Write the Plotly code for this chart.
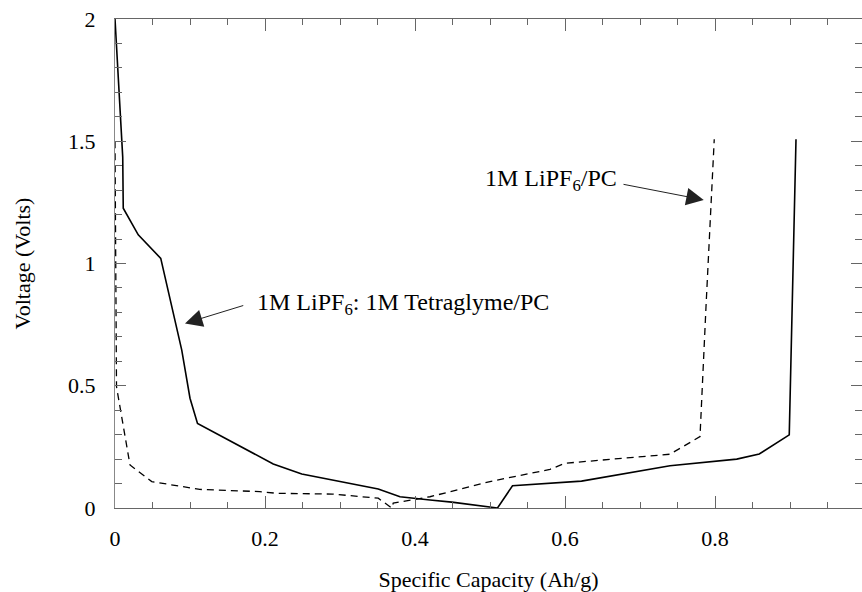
import plotly.graph_objects as go

# Solid: 1M LiPF6 : 1M Tetraglyme/PC
tg_x = [0.0, 0.0103, 0.011, 0.031, 0.061, 0.089, 0.10, 0.11, 0.211, 0.249, 0.351, 0.38, 0.42, 0.449, 0.51, 0.53, 0.622, 0.74, 0.829, 0.859, 0.899, 0.903, 0.908]
tg_y = [2.0, 1.435, 1.226, 1.117, 1.021, 0.646, 0.449, 0.346, 0.18, 0.139, 0.078, 0.046, 0.033, 0.024, 0.0, 0.091, 0.11, 0.173, 0.20, 0.221, 0.299, 0.85, 1.508]

# Dashed: 1M LiPF6/PC
pc_x = [0.0, 0.002, 0.02, 0.049, 0.113, 0.193, 0.216, 0.29, 0.351, 0.369, 0.371, 0.42, 0.442, 0.50, 0.58, 0.60, 0.74, 0.78, 0.788, 0.799]
pc_y = [1.5, 0.496, 0.176, 0.108, 0.076, 0.067, 0.06, 0.057, 0.04, 0.0, 0.02, 0.046, 0.063, 0.108, 0.158, 0.183, 0.22, 0.292, 0.823, 1.508]

x_ticks = [0, 0.2, 0.4, 0.6, 0.8]
y_ticks = [0, 0.5, 1, 1.5, 2]

FONT = "'Liberation Serif', 'Times New Roman', Times, serif"

fig = go.Figure()
fig.add_trace(go.Scatter(x=tg_x, y=tg_y, mode="lines",
                         line=dict(color="black", width=1.6), showlegend=False))
fig.add_trace(go.Scatter(x=pc_x, y=pc_y, mode="lines",
                         line=dict(color="black", width=1.3, dash="7px,5px"), showlegend=False))

# arrows
fig.add_annotation(x=0.0933, y=0.755, ax=0.173, ay=0.83, xref="x", yref="y",
                   axref="x", ayref="y", text="", showarrow=True,
                   arrowhead=2, arrowsize=3.5, arrowwidth=1, arrowcolor="#222")
fig.add_annotation(x=0.785, y=1.26, ax=0.676, ay=1.325, xref="x", yref="y",
                   axref="x", ayref="y", text="", showarrow=True,
                   arrowhead=2, arrowsize=3.5, arrowwidth=1, arrowcolor="#222")

# labels
fig.add_annotation(x=0.186, y=0.835, xref="x", yref="y", xanchor="left", yanchor="middle",
                   text="1M LiPF<sub>6</sub>: 1M Tetraglyme/PC", showarrow=False,
                   font=dict(family=FONT, size=24, color="black"))
fig.add_annotation(x=0.491, y=1.34, xref="x", yref="y", xanchor="left", yanchor="middle",
                   text="1M LiPF<sub>6</sub>/PC", showarrow=False,
                   font=dict(family=FONT, size=24, color="black"))

fig.update_layout(
    width=862, height=592,
    margin=dict(l=115, r=0, t=19, b=84),
    plot_bgcolor="white", paper_bgcolor="white",
    font=dict(family=FONT, size=22, color="black"),
    xaxis=dict(range=[0, 0.996], tickvals=x_ticks, ticktext=[str(v) for v in x_ticks],
               ticks="inside", ticklen=12, tickcolor="#666", tickwidth=1,
               minor=dict(dtick=0.05, ticks="inside", ticklen=6, tickcolor="#666"),
               showline=True, linecolor="#666", linewidth=1, mirror="ticks",
               showgrid=False, zeroline=False, ticklabelstandoff=11,
               tickfont=dict(family=FONT, size=22),
               title=dict(text="Specific Capacity (Ah/g)", font=dict(family=FONT, size=22), standoff=22)),
    yaxis=dict(range=[0, 2], tickvals=y_ticks, ticktext=[str(v) for v in y_ticks],
               ticks="inside", ticklen=11, tickcolor="#666", tickwidth=1,
               minor=dict(dtick=0.1, ticks="inside", ticklen=7, tickcolor="#666"),
               showline=True, linecolor="#888", linewidth=1, mirror="ticks",
               showgrid=False, zeroline=False, ticklabelstandoff=14,
               tickfont=dict(family=FONT, size=22),
               title=dict(text="Voltage (Volts)", font=dict(family=FONT, size=22), standoff=31)),
)

fig.write_html("out.html")
